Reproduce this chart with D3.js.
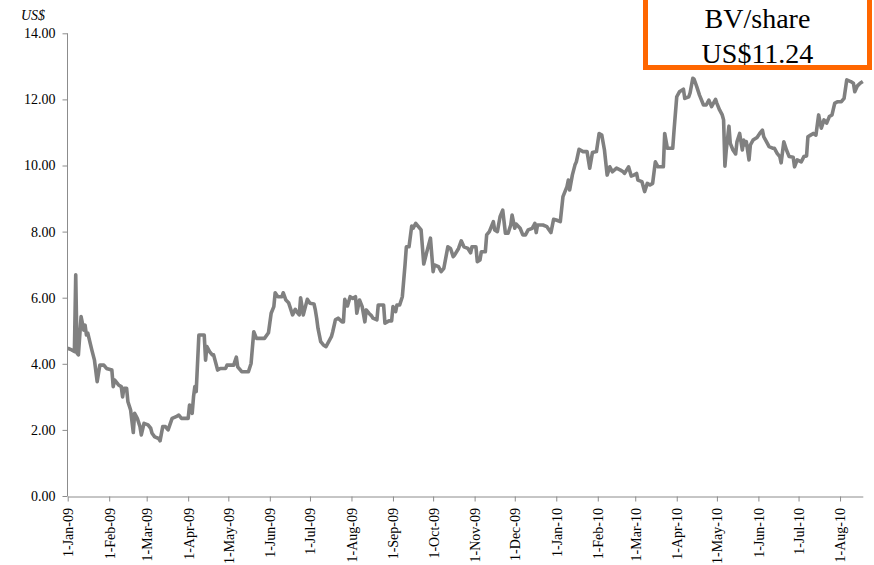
<!DOCTYPE html>
<html><head><meta charset="utf-8">
<script src="https://cdn.jsdelivr.net/npm/d3@7"></script>
<style>
html,body{margin:0;padding:0;background:#fff;}
svg{display:block;}
</style></head>
<body>
<svg id="chart" width="874" height="565"></svg>
<script>
// ---- data ----
const baseDate = "2009-01-01";
const domainEnd = "2010-08-18";
// day offsets from 1-Jan-09
const dayOffsets = [0,3,5,6,7,8,10,12,13,14,15,18,20,22,24,27,29,33,34,35,38,40,41,42,44,45,47,49,50,52,54,55,57,60,62,63,65,68,69,71,73,75,78,81,83,85,90,91,93,94,95,96,98,102,103,104,106,108,109,112,114,118,119,124,126,127,130,135,137,139,
141,147,150,152,154,155,157,160,161,163,165,166,168,170,171,173,174,176,179,181,184,185,186,187,189,191,193,195,197,198,200,202,205,206,207,209,211,213,215,216,218,220,222,223,225,227,228,231,232,236,237,240,242,243,245,246,248,250,252,253,255,257,258,260,262,264,266,268,271,273,274,277,279,281,
284,286,288,289,292,294,296,299,301,302,305,306,308,309,312,313,315,318,319,321,323,325,327,329,331,332,334,335,338,340,342,344,347,348,349,350,351,355,358,361,363,365,368,370,373,374,375,377,379,380,382,385,388,390,392,395,397,399,401,403,405,407,410,413,415,416,419,
421,423,425,426,429,431,433,435,437,439,441,445,446,448,452,453,455,457,460,461,464,465,467,468,470,472,475,477,479,481,484,485,487,489,490,491,492,494,495,497,499,500,502,504,505,506,507,509,510,512,515,517,519,520,522,524,527,528,530,532,533,535,537,539,542,543,545,548,550,552,553,555,557,559,561,562,563,565,567,569,571,573,575,578,580,582,585,587,588,590,592,594];
const bvValues = [4.47,4.42,4.37,6.69,4.32,4.27,5.43,5.02,5.17,4.87,4.93,4.42,4.11,3.46,3.96,3.96,3.86,3.81,3.31,3.51,3.36,3.31,3.00,3.26,3.26,2.85,2.60,1.92,2.50,2.35,2.10,1.85,2.20,2.15,2.05,1.90,1.79,1.74,1.67,2.10,2.10,2.00,2.35,2.40,2.45,2.35,2.35,2.75,2.50,3.00,3.31,3.16,4.87,4.87,4.11,4.52,4.37,4.27,4.27,3.81,3.86,3.86,3.96,3.96,4.20,3.91,3.76,3.76,4.01,4.97,
4.77,4.77,4.94,5.53,5.73,6.15,6.03,6.03,6.15,5.93,5.85,5.73,5.48,5.65,5.58,5.48,6.00,5.48,5.95,5.83,5.81,5.63,5.38,5.07,4.67,4.57,4.52,4.67,4.82,4.97,5.33,5.38,5.27,5.27,5.95,5.75,6.03,5.98,6.03,5.53,5.93,5.73,5.27,5.63,5.53,5.45,5.38,5.33,5.78,5.78,5.23,5.30,5.30,5.73,5.58,5.78,5.78,6.03,6.99,7.54,7.54,8.17,8.10,8.25,8.15,8.05,7.02,7.34,7.80,6.79,6.99,6.94,6.79,6.89,
7.54,7.49,7.24,7.29,7.49,7.72,7.54,7.49,7.36,7.54,7.54,7.09,7.14,7.39,7.39,7.90,8.00,8.30,8.05,8.00,8.45,8.65,7.95,7.95,8.20,8.50,8.10,8.23,8.10,7.90,7.90,8.05,8.10,8.17,8.25,7.97,8.20,8.20,8.15,7.97,8.37,8.35,8.30,9.06,9.36,9.56,9.26,9.71,10.02,10.11,10.49,10.42,10.42,9.92,10.39,10.42,10.97,10.92,10.47,9.71,9.96,9.81,9.92,9.86,9.81,9.76,9.96,
9.68,9.71,9.76,9.56,9.51,9.21,9.46,9.41,9.46,10.11,9.96,9.96,10.97,10.52,10.52,11.07,12.08,12.23,12.31,12.03,12.08,12.20,12.64,12.61,12.38,12.13,11.83,11.83,11.98,11.78,12.00,11.88,11.68,11.53,11.38,9.98,10.47,11.19,10.67,10.47,10.35,10.72,10.97,10.47,10.77,10.62,10.72,10.17,10.62,10.77,10.85,10.97,11.07,10.87,10.72,10.57,10.52,10.52,10.37,10.27,10.08,10.72,10.47,10.27,10.25,9.96,10.17,10.11,10.27,10.29,10.87,10.92,10.97,10.92,11.53,11.33,11.13,11.38,11.28,11.48,11.53,11.88,11.93,11.93,12.03,12.59,12.54,12.49,12.23,12.41,12.49,12.54];
const yTickValues = [0,2,4,6,8,10,12,14];
const tickMonths = ["2009-01-01","2009-02-01","2009-03-01","2009-04-01","2009-05-01","2009-06-01","2009-07-01","2009-08-01","2009-09-01","2009-10-01","2009-11-01","2009-12-01","2010-01-01","2010-02-01","2010-03-01","2010-04-01","2010-05-01","2010-06-01","2010-07-01","2010-08-01"];
const yUnit = "US$";
const boxLines = ["BV/share","US$11.24"];

// ---- chart ----
const parse = d3.utcParse("%Y-%m-%d");
const base = parse(baseDate);
const data = dayOffsets.map((d,i)=>({date:d3.utcDay.offset(base,d), v:bvValues[i]}));

const svg = d3.select("#chart");
const serif = "'Liberation Serif','Times New Roman',Times,serif";
const axisColor = "#8c8c8c";

const x = d3.scaleUtc().domain([base, parse(domainEnd)]).range([67.7, 862.8]);
const y = d3.scaleLinear().domain([0,14]).range([496, 33.3]);

// line
svg.append("path")
  .datum(data)
  .attr("fill","none")
  .attr("stroke","#808080")
  .attr("stroke-width",3.6)
  .attr("stroke-linejoin","round")
  .attr("d", d3.line().x(d=>x(d.date)).y(d=>y(d.v)));

// y axis
const yAxis = svg.append("g").attr("transform","translate(67.5,0)")
  .call(d3.axisLeft(y).tickValues(yTickValues).tickFormat(d3.format(".2f")).tickSize(5).tickPadding(7));
yAxis.select(".domain").attr("stroke",axisColor).attr("d","M0,33.3V496");
yAxis.selectAll(".tick line").attr("stroke",axisColor);
yAxis.selectAll("text").attr("font-family",serif).attr("font-size",14).attr("fill","#000");

// x axis
const xAxis = svg.append("g").attr("transform","translate(0,496.5)")
  .call(d3.axisBottom(x).tickValues(tickMonths.map(parse)).tickFormat(d3.utcFormat("%-d-%b-%y")).tickSize(5).tickSizeOuter(0));
xAxis.select(".domain").attr("stroke",axisColor);
xAxis.selectAll(".tick line").attr("stroke",axisColor);
xAxis.selectAll("text")
  .attr("font-family",serif).attr("font-size",14).attr("fill","#000")
  .attr("text-anchor","end")
  .attr("dy","0.35em")
  .attr("transform","translate(0,11.5) rotate(-90)")
  .attr("x",0).attr("y",0);

// unit label
svg.append("text").attr("x",21).attr("y",20)
  .attr("font-family",serif).attr("font-size",14).attr("font-style","italic")
  .text(yUnit);

// box
svg.append("rect").attr("x",645.5).attr("y",-10).attr("width",224).attr("height",77.5)
  .attr("fill","#fff").attr("stroke","#ff6600").attr("stroke-width",5);
svg.selectAll("text.box").data(boxLines).enter().append("text")
  .attr("class","box")
  .attr("x",757.5).attr("y",(d,i)=>28+i*35)
  .attr("text-anchor","middle")
  .attr("font-family",serif).attr("font-size",28)
  .text(d=>d);
</script>
</body></html>
